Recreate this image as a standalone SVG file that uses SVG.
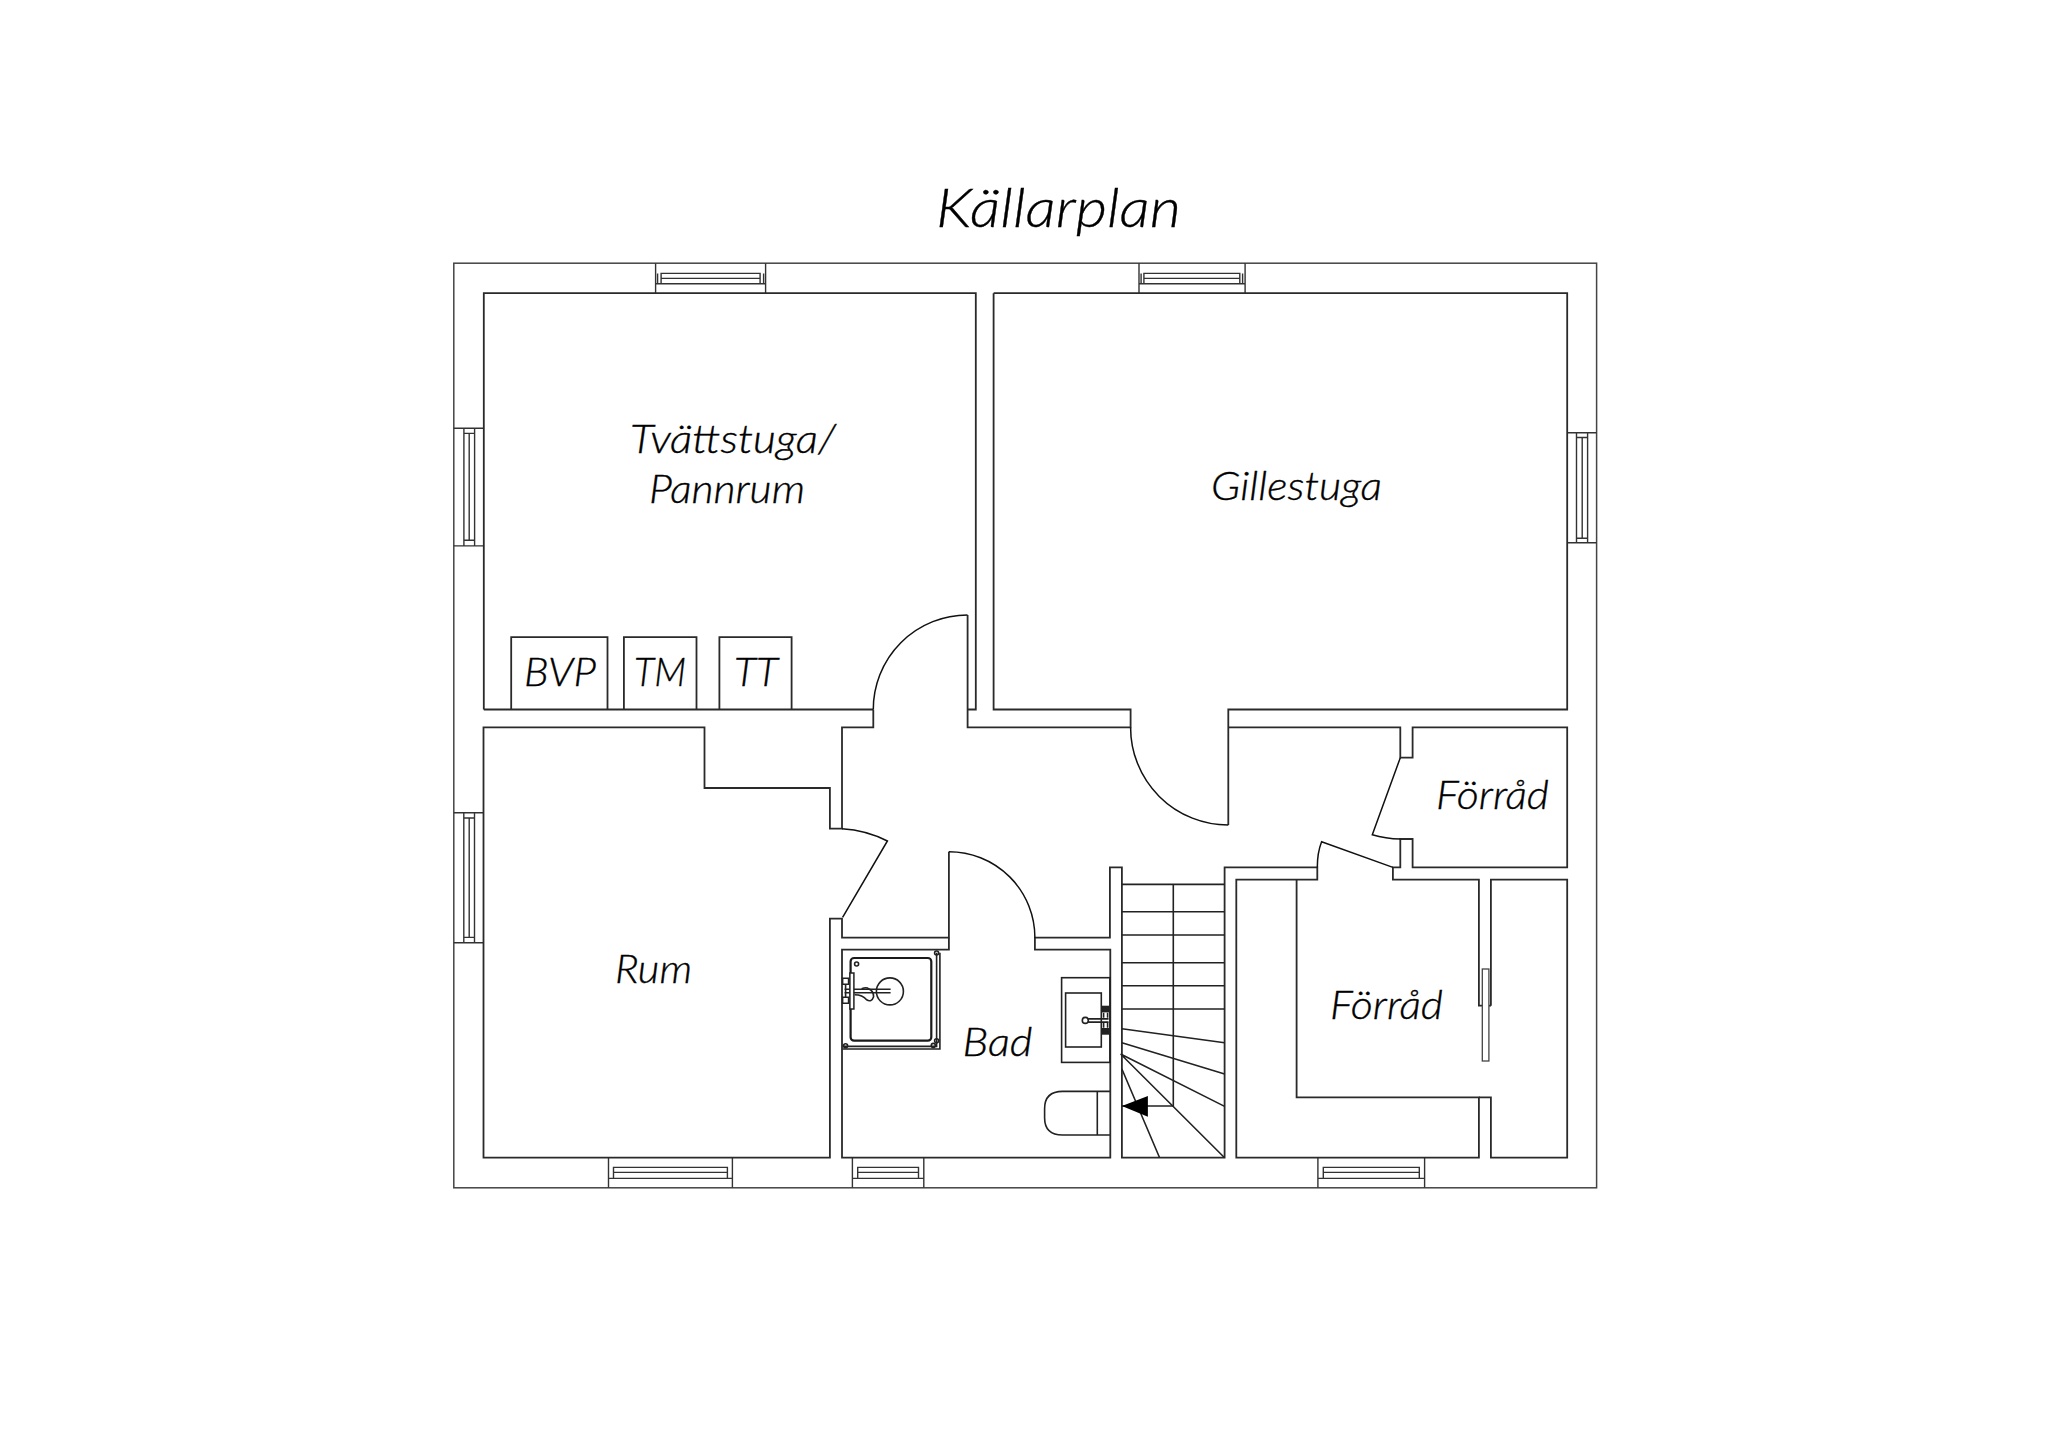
<svg xmlns="http://www.w3.org/2000/svg" width="2048" height="1448" viewBox="0 0 2048 1448">
<defs>
<style>
.w{fill:none;stroke:#2a2a2a;stroke-width:1.8;stroke-linejoin:miter}
.o{fill:none;stroke:#444;stroke-width:1.5}
.t{fill:none;stroke:#333;stroke-width:1.4}
.d{fill:none;stroke:#111;stroke-width:1.5}
.s{fill:none;stroke:#222;stroke-width:1.6}
.b{fill:none;stroke:#1a1a1a;stroke-width:2.2}
.l{font-family:"Lato","Noto Sans",sans-serif;font-style:italic;font-weight:300;font-size:39px;fill:#000;stroke:#000;stroke-width:.35}
</style>
</defs>
<rect width="2048" height="1448" fill="#fff"/>
<g id="outer"><rect class="o" x="453.8" y="263.2" width="1142.8" height="924.6"/></g>
<g id="plan" transform="translate(0.6 0.7)">
<g id="windows">
<path class="t" d="M655 262.5V292.5M765 262.5V292.5M660.5 272.7H759.5V283H660.5ZM660.5 277.7H759.5M655.5 283H764.5M657 272.7V283M763 272.7V283"/>
<path class="t" d="M1138.4 262.5V292.5M1244.5 262.5V292.5M1143.3 272.7H1239.2V283H1143.3ZM1143.3 277.7H1239.2M1138.9 283H1244M1140.5 272.7V283M1242 272.7V283"/>
<path class="t" d="M453.2 427.5H483.5M453.2 545.2H483.5M463.3 427.5V545M474 427.5V545M468.6 432.7V539.5M463.3 432.7H474M463.3 539.5H474"/>
<path class="t" d="M453.2 812H483.2M453.2 942H483.2M463.2 812V942M473.9 812V942M468.6 817.3V936.7M463.2 817.3H473.9M463.2 936.7H473.9"/>
<path class="t" d="M1566.6 432.1H1596M1566.6 542.1H1596M1575.9 432.1V542M1587 432.1V542M1581.6 436.8V537.5M1575.9 436.8H1587M1575.9 537.5H1587"/>
<path class="t" d="M607.9 1157V1187M731.8 1157V1187M612.9 1166.7H726.8V1177.7H612.9ZM612.9 1171.7H726.8M608 1177.7H731.8"/>
<path class="t" d="M851.8 1157V1187M923.2 1157V1187M857.1 1166.7H917.9V1177.7H857.1ZM857.1 1171.7H917.9M852 1177.7H923"/>
<path class="t" d="M1317.3 1157V1187M1424 1157V1187M1322.7 1166.7H1418.7V1177.7H1322.7ZM1322.7 1171.7H1418.7M1317.5 1177.7H1424"/>
</g>
<g id="walls">
<path class="w" d="M483.2 708.8V292.5H975.2V708.8H967"/>
<path class="w" d="M872.7 708.8H483.2"/>
<path class="w" d="M993 292.5H1566.6V708.8H1227.7V824.3"/>
<path class="w" d="M993 292.5V708.8H1130V726.7H967V614.3"/>
<path class="w" d="M872.7 708.8V726.7H841.4V828H829.3V787.3H703.9V726.7H482.9V1157H829.3V918H841.4V937H948.3V851"/>
<path class="w" d="M948.3 937V949H841.4V1157H1109.7V949H1034.3V937H1109.3V866.7H1121.3V1157H1224V866.7H1316.7V879H1235.7V1157H1478.3V1096.7H1296V879"/>
<path class="w" d="M1227.7 726.7H1399.7V757H1412V726.7H1566.6V866.7H1412V838.3H1399.7V866.7H1392.3V879H1478.3V1005H1481.7"/>
<path class="w" d="M1490.3 1005V879H1566.6V1157H1490.3V1096.7H1478.3"/>
<path class="w" d="M1488.3 1005H1490.3"/>
</g>
<g id="doors">
<path class="d" d="M966.9 614.3A94.3 94.3 0 0 0 872.7 708.8"/>
<path class="d" d="M1130 726.7A97.6 97.6 0 0 0 1227.7 824.3"/>
<path class="d" d="M841.4 828Q866 829.5 886.8 840.3L842 916.7"/>
<path class="d" d="M948.3 851A86 86 0 0 1 1034.3 937"/>
<path class="d" d="M1399.7 757L1371.7 834Q1385 838 1399.7 838.3"/>
<path class="d" d="M1316.7 866.7Q1316.7 852 1321 841L1392.3 866.7"/>
<rect x="1481.7" y="968.3" width="6.6" height="92" fill="#fff" stroke="#444" stroke-width="1.3"/>
</g>
<g id="stairs">
<path class="s" d="M1121.3 883.7H1224M1121.3 911H1224M1121.3 934.3H1224M1121.3 962H1224M1121.3 985H1224M1121.3 1008.3H1224M1172.7 883.7V1105.3H1121.3"/>
<path class="s" d="M1121.3 1028L1224 1042M1121.3 1042L1224 1073.3M1120 1053.3L1224 1105.7M1120 1053.3L1224 1157M1121.3 1068.3L1159 1157"/>
<polygon points="1121.3,1105.3 1147.3,1095.3 1147.3,1116" fill="#000"/>
</g>
<g id="appliances">
<path class="w" d="M510.6 708.8V636.4H606.9V708.8M623.3 708.8V636.4H695.9V708.8M718.8 708.8V636.4H791V708.8"/>
</g>
<g id="shower">
<path class="s" d="M842 1048.3H939.3V952M842 1045.7H936V952"/>
<rect class="b" x="850" y="957.3" width="80.7" height="82.7" rx="3.5"/>
<circle class="s" cx="856" cy="963.3" r="2"/>
<circle class="s" cx="936" cy="952.3" r="2"/>
<circle class="s" cx="936" cy="1040" r="2"/>
<circle class="s" cx="932.7" cy="1044.7" r="2"/>
<circle class="s" cx="845" cy="1045" r="2"/>
<circle class="s" cx="889.3" cy="990.7" r="13.5"/>
<path class="s" d="M844 988.5H890M844 992H890"/>
<rect x="849.3" y="972.3" width="4" height="36" fill="#fff" stroke="#222" stroke-width="1.5"/>
<path class="s" d="M842 977.5H848V983.5H842ZM842 996.5H848V1002.5H842ZM845 984V996M854 994Q862 994 866 999Q871 1002 873 996Q873 990 868 988Q866 986 861 988"/>
</g>
<g id="sink">
<rect class="s" x="1061" y="977" width="48.3" height="84.7"/>
<rect class="s" x="1065" y="992.3" width="35.7" height="54"/>
<circle class="s" cx="1084.7" cy="1019.7" r="3"/>
<path class="s" d="M1087.5 1018.2H1108M1087.5 1021.4H1108"/>
<rect x="1101.3" y="1005" width="7.7" height="6.7" fill="#222"/>
<rect x="1101.3" y="1027.3" width="7.7" height="6.7" fill="#222"/>
<path class="s" d="M1103 1012V1017M1107 1012V1017M1103 1022V1027M1107 1022V1027"/>
</g>
<g id="toilet">
<path class="s" d="M1109.3 1090.7H1062Q1044 1090.7 1044 1108V1117Q1044 1134.3 1062 1134.3H1109.3M1096.7 1090.7V1134.3"/>
</g>
</g>
<g id="labels">
<text class="l" x="936" y="227" style="font-size:54px" textLength="245" lengthAdjust="spacingAndGlyphs">Källarplan</text>
<text class="l" x="630" y="453" textLength="206" lengthAdjust="spacingAndGlyphs">Tvättstuga/</text>
<text class="l" x="649" y="503" textLength="156" lengthAdjust="spacingAndGlyphs">Pannrum</text>
<text class="l" x="1211" y="499.5" textLength="171" lengthAdjust="spacingAndGlyphs">Gillestuga</text>
<text class="l" x="524" y="686" textLength="72" lengthAdjust="spacingAndGlyphs">BVP</text>
<text class="l" x="634" y="686" textLength="52" lengthAdjust="spacingAndGlyphs">TM</text>
<text class="l" x="734" y="686" textLength="44" lengthAdjust="spacingAndGlyphs">TT</text>
<text class="l" x="615" y="983" textLength="77" lengthAdjust="spacingAndGlyphs">Rum</text>
<text class="l" x="962.5" y="1056" textLength="70" lengthAdjust="spacingAndGlyphs">Bad</text>
<text class="l" x="1436" y="808.5" textLength="113" lengthAdjust="spacingAndGlyphs">Förråd</text>
<text class="l" x="1330" y="1018.5" textLength="113" lengthAdjust="spacingAndGlyphs">Förråd</text>
</g>
</svg>
